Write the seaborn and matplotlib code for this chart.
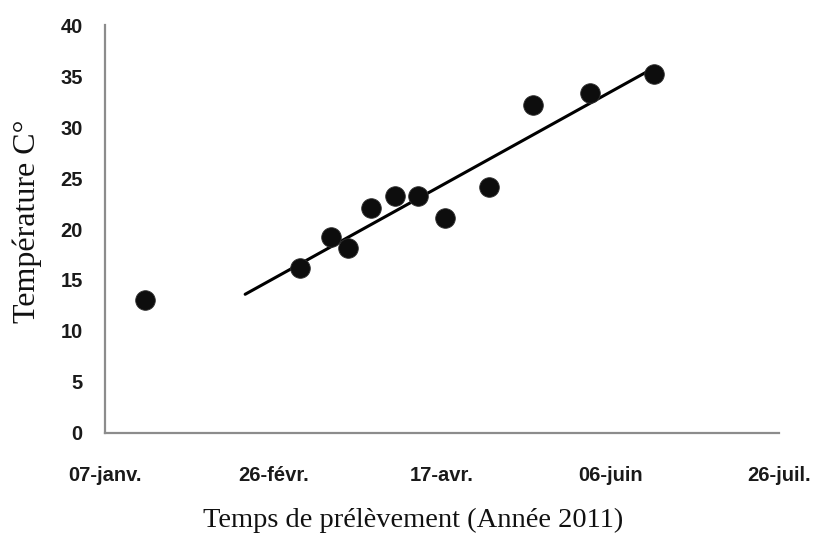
import numpy as np
import pandas as pd
import matplotlib
matplotlib.use("Agg")
import matplotlib.pyplot as plt
import matplotlib.dates as mdates
import seaborn as sns

# --- data ---
dates = ["2011-01-19", "2011-03-06", "2011-03-15", "2011-03-20", "2011-03-27",
         "2011-04-03", "2011-04-10", "2011-04-18", "2011-05-01", "2011-05-14",
         "2011-05-31", "2011-06-19"]
temps = [13, 16.2, 19.2, 18.1, 22.1, 23.2, 23.2, 21.1, 24.1, 32.2, 33.3, 35.2]
tick_dates = ["2011-01-07", "2011-02-26", "2011-04-17", "2011-06-06", "2011-07-26"]
tick_labels = ["07-janv.", "26-févr.", "17-avr.", "06-juin", "26-juil."]
y_ticks = [0, 5, 10, 15, 20, 25, 30, 35, 40]

df = pd.DataFrame({"date": pd.to_datetime(dates), "temp": temps})

sns.set_theme(style="white")
plt.rcParams['font.family'] = ['Liberation Sans', 'DejaVu Sans']

fig = plt.figure(figsize=(8.2, 5.37), dpi=100)
ax = fig.add_axes([0.128, 0.1937, 0.822, 0.7597])

# trend line (fit on points from March onward, with backward extension)
fit = df.iloc[1:]
xnum = mdates.date2num(fit["date"])
slope, intercept = np.polyfit(xnum, fit["temp"], 1)
x_line = np.linspace(xnum.min() - 16.4, xnum.max(), 50)
line_df = pd.DataFrame({"date": mdates.num2date(x_line), "temp": slope * x_line + intercept})
sns.lineplot(data=line_df, x="date", y="temp", ax=ax, color="black", linewidth=2.2, zorder=2)

sns.scatterplot(data=df, x="date", y="temp", ax=ax, s=200, color="#0d0d0d",
                edgecolor="#333333", linewidth=0.6, zorder=3)

ax.set_xlim(pd.Timestamp("2011-01-07"), pd.Timestamp("2011-07-26"))
ax.set_ylim(0, 40)
ax.set_xticks(pd.to_datetime(tick_dates))
ax.set_xticklabels(tick_labels)
ax.set_yticks(y_ticks)

for lab in ax.get_xticklabels() + ax.get_yticklabels():
    lab.set_fontweight("bold")
    lab.set_fontsize(14.5)
    lab.set_color("#1a1a1a")
ax.tick_params(axis="x", length=0, pad=24)
ax.tick_params(axis="y", length=0, pad=16)

for s in ["top", "right"]:
    ax.spines[s].set_visible(False)
for s in ["left", "bottom"]:
    ax.spines[s].set_color("#8c8c8c")
    ax.spines[s].set_linewidth(1.6)

ax.set_xlabel("Temps de prélèvement (Année 2011)", family=["Liberation Serif", "DejaVu Serif"],
              fontsize=20.5, color="#111111", labelpad=16)
ax.set_ylabel("Température C°", family=["Liberation Serif", "DejaVu Serif"],
              fontsize=23, color="#111111", labelpad=13)
ax.xaxis.label.set_x(0.457)
ax.yaxis.label.set_y(0.52)
ax.grid(False)

fig.savefig("out.png", dpi=100)
